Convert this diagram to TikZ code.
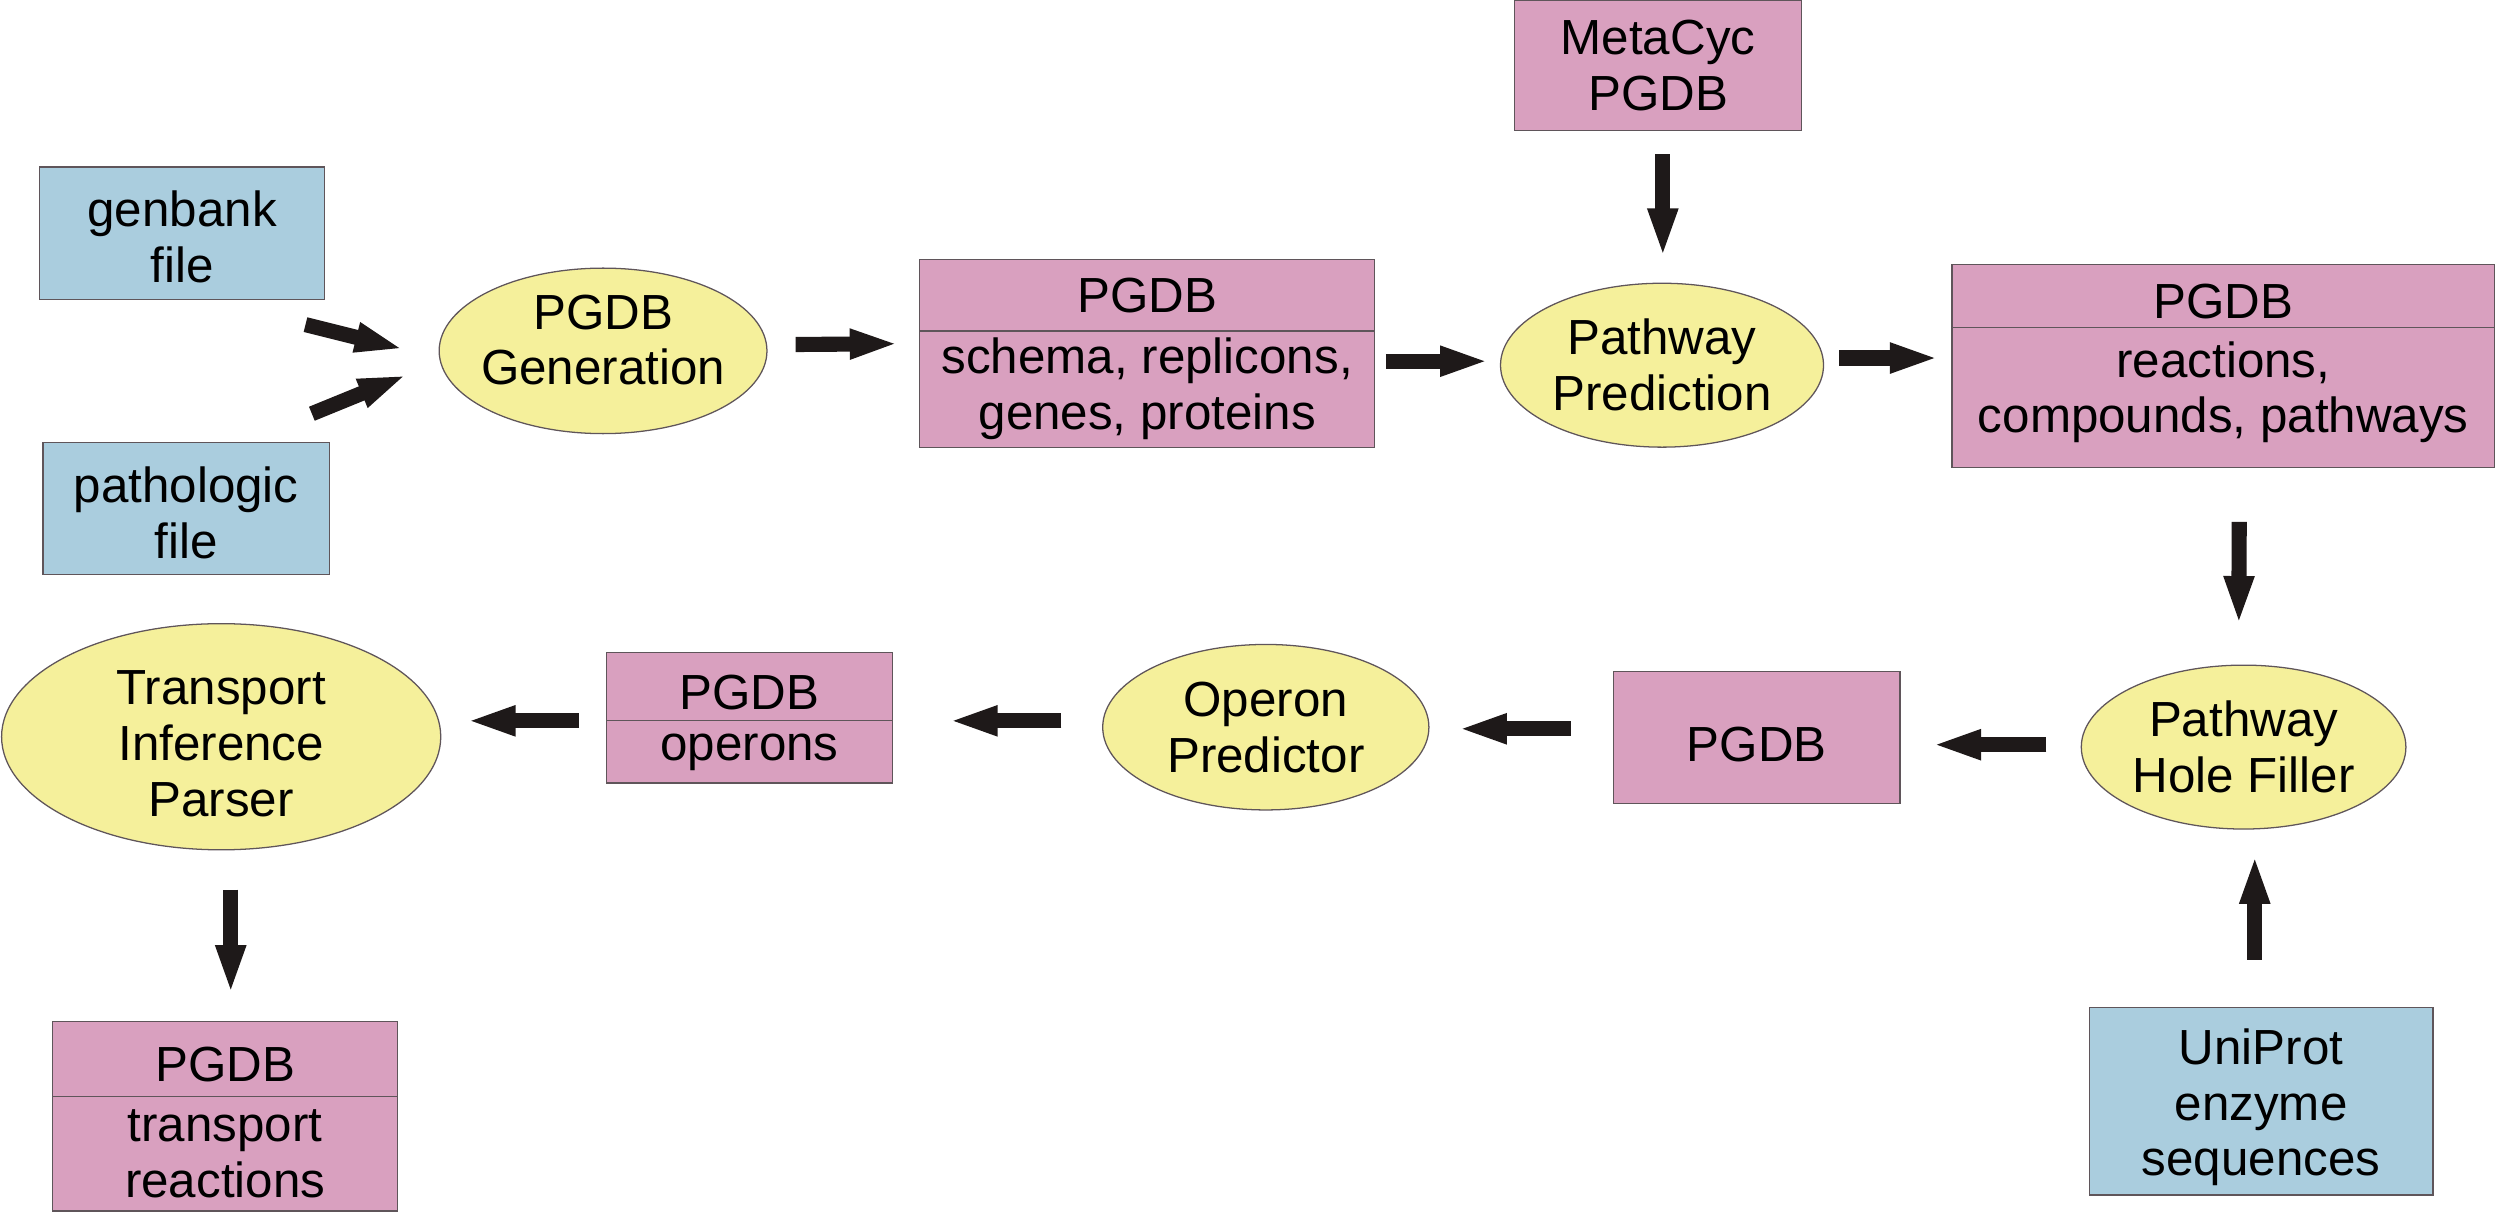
\documentclass[tikz,border=0pt]{standalone}
\usepackage{fontspec}
\setmainfont{Liberation Sans}
\usetikzlibrary{shapes.geometric,arrows.meta,calc}
\definecolor{boxblue}{RGB}{170,205,222}
\definecolor{boxpink}{RGB}{217,160,191}
\definecolor{ellyellow}{RGB}{245,240,155}
\definecolor{arrowblack}{RGB}{30,25,25}
\definecolor{edgegray}{RGB}{95,85,90}
\newcommand{\topfix}[1]{\rule[#1]{0pt}{0pt}}
\newcommand{\botfix}[1]{\rule[-#1]{0pt}{0pt}}
\begin{document}
\begin{tikzpicture}[x=0.5pt,y=-0.5pt,
  every node/.style={font=\fontsize{15.5}{17.5}\selectfont, align=center, inner sep=0pt, outer sep=0pt, text=black},
  bluebox/.style={draw=edgegray, line width=0.4pt, fill=boxblue, rectangle},
  pinkbox/.style={draw=edgegray, line width=0.4pt, fill=boxpink, rectangle},
  procell/.style={draw=edgegray, line width=0.4pt, fill=ellyellow, ellipse, inner xsep=-3pt},
  flowarrow/.style={draw=arrowblack, line width=4.75pt, -{Triangle[length=15.5pt,width=8.5pt]}},
]
\useasboundingbox (0,0) rectangle (1568,762);

% input boxes
\node[bluebox, minimum width=89.5pt, minimum height=41.5pt] (gb) at (114.5,146.5) {\topfix{13.8pt}genbank\\file};
\node[bluebox, minimum width=90pt, minimum height=41.5pt] (pl) at (117,319.5) {\topfix{14pt}pathologic\\file};
\node[bluebox, minimum width=108pt, minimum height=59pt] (up) at (1421,692) {\topfix{15.1pt}UniProt\\enzyme\\sequences};
\node[pinkbox, minimum width=90pt, minimum height=41pt] (mc) at (1042,41) {MetaCyc\\PGDB};

% processes
\node[procell, minimum width=103pt, minimum height=52pt] (gen) at (379,220.5) {PGDB\\Generation\botfix{7pt}};
\node[procell, minimum width=101.5pt, minimum height=51.5pt] (pp) at (1044.5,229.5) {Pathway\\Prediction};
\node[procell, minimum width=102pt, minimum height=51.5pt] (phf) at (1410,469.5) {Pathway\\Hole Filler};
\node[procell, minimum width=102.5pt, minimum height=52pt] (op) at (795.5,457) {Operon\\Predictor};
\node[procell, minimum width=138pt, minimum height=70pt] (tip) at (139,463) {\topfix{15.1pt}Transport\\Inference\\Parser};

% PGDB boxes
\node[pinkbox, minimum width=143pt, minimum height=22.5pt] (s1t) at (721,185.5) {PGDB};
\node[pinkbox, minimum width=143pt, minimum height=36.5pt] (s1b) at (721,244.5) {schema, replicons,\\genes, proteins};

\node[pinkbox, minimum width=170.5pt, minimum height=20pt] (r1t) at (1397.25,186) {\topfix{14pt}PGDB};
\node[pinkbox, minimum width=170.5pt, minimum height=44pt] (r1b) at (1397.25,250) {reactions,\\compounds, pathways\botfix{6.7pt}};

\node[pinkbox, minimum width=90pt, minimum height=41.5pt] (pg2) at (1104,463.5) {\topfix{15.5pt}PGDB};

\node[pinkbox, minimum width=90pt, minimum height=21.5pt] (o1t) at (471,431.5) {\topfix{14.5pt}PGDB};
\node[pinkbox, minimum width=90pt, minimum height=19.5pt] (o1b) at (471,472.5) {operons};

\node[pinkbox, minimum width=108.5pt, minimum height=23.5pt] (t1t) at (141.5,665.5) {\topfix{14.5pt}PGDB};
\node[pinkbox, minimum width=108.5pt, minimum height=36pt] (t1b) at (141.5,725) {transport\\reactions};

% arrows
\draw[flowarrow] ($(gb.south east)+(-12,16)$) -- ($(gen.west)+(-22,-1)$);
\draw[flowarrow] ($(pl.north east)+(-11,-18)$) -- ($(gen.west)+(-20,15)$);
\draw[flowarrow] ($(gen.east)+(18,-4)$) -- ($(s1t.south west)+(-13,8)$);
\draw[flowarrow] ($(s1b.east)+(7,-17.5)$) -- ($(pp.west)+(-7,-2.5)$);
\draw[flowarrow] ($(mc.south)+(3,15)$) -- ($(pp.north)+(0.5,-16)$);
\draw[flowarrow] ($(pp.east)+(10,-4.5)$) -- ($(r1t.south west)+(-8,19)$);
\draw[flowarrow] ($(r1b.south)+(10,34)$) -- ($(phf.north)+(-3,-25)$);
\draw[flowarrow] ($(up.north)+(-4,-30)$) -- ($(phf.south)+(7,16)$);
\draw[flowarrow] ($(phf.west)+(-22,-1.5)$) -- ($(pg2.east)+(20,4.5)$);
\draw[flowarrow] ($(pg2.west)+(-27,-5.5)$) -- ($(op.east)+(18,1)$);
\draw[flowarrow] ($(op.west)+(-26,-4)$) -- ($(o1t.south east)+(35,0)$);
\draw[flowarrow] ($(o1t.south west)+(-17,0)$) -- ($(tip.east)+(16,-10)$);
\draw[flowarrow] ($(tip.south)+(6,25)$) -- ($(t1t.north)+(3.5,-17)$);
\end{tikzpicture}
\end{document}
